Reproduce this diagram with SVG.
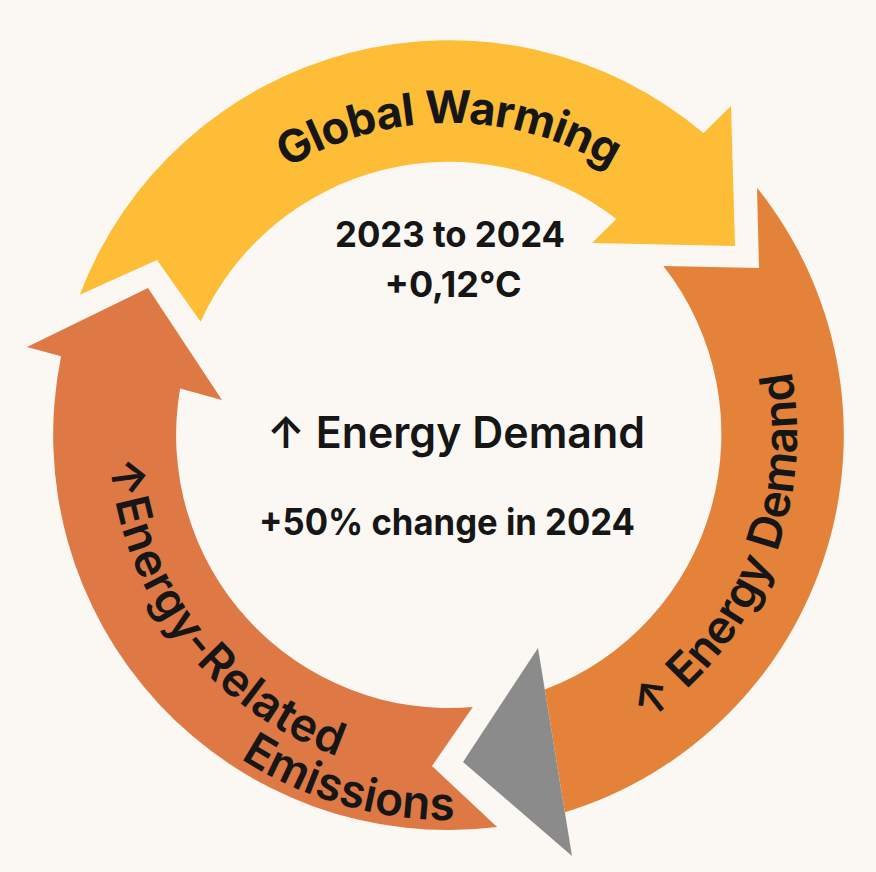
<svg xmlns="http://www.w3.org/2000/svg" width="876" height="872" viewBox="0 0 876 872">
  <style>
    .bg { fill: #fbf8f3; }
    .yellow { fill: #fdbd36; }
    .orange-r { fill: #e4823a; }
    .orange-l { fill: #de7946; }
    .grey { fill: #8b8b8b; }
    .lbl { font-family: Inter, "Liberation Sans", "DejaVu Sans", sans-serif; fill: #161616; }
    .arc { font-size: 46px; font-weight: 600; }
    .center { text-anchor: middle; font-weight: 700; }
  </style>
  <defs>
    <path id="p-gw" d="M 178.8 279 A 312 312 0 0 1 719.2 279"/>
    <path id="p-ed" d="M 509.4 777.7 A 348 348 0 0 0 734.1 235.4"/>
    <path id="p-er1" d="M 129.5 318.7 A 340 340 0 0 0 478.6 773.7"/>
    <path id="p-er2" d="M 87.2 566.7 A 385 385 0 0 0 686 738.4"/>
  </defs>
  <rect class="bg" x="0" y="0" width="876" height="872"/>

  <g id="connectors">
    <path id="arrow-global-warming" class="yellow" d="M 79.8 294.7 A 395 395 0 0 1 703.5 133.1 L 731 106 L 735 246 L 592 243 L 616.3 219 A 273 273 0 0 0 200.6 321.8 L 157 260 Z"/>
    <path id="arrow-energy-demand" class="orange-r" d="M 757 187.7 A 395 395 0 0 1 564.9 812.3 L 544.8 689.6 A 273 273 0 0 0 663.4 266 L 759 268 Z"/>
    <path id="arrowhead-grey" class="grey" d="M 538 648 L 463 762 L 572 856 Z"/>
    <path id="arrow-emissions" class="orange-l" d="M 497.1 827 A 395 395 0 0 1 61.1 356.3 L 27 347 L 148 288 L 222 400 L 180.1 388.6 A 273 273 0 0 0 472.8 707 L 432 766 Z"/>
  </g>

  <g id="node-global-warming">
    <text class="lbl arc" style="font-weight:700; font-size:45px"><textPath href="#p-gw" startOffset="50%" text-anchor="middle" textLength="340" lengthAdjust="spacing">Global Warming</textPath></text>
  </g>

  <g id="node-energy-demand">
    <text class="lbl arc"><textPath href="#p-ed" startOffset="50%" text-anchor="middle" textLength="402" lengthAdjust="spacing">↑ Energy Demand</textPath></text>
  </g>

  <g id="node-emissions">
    <text class="lbl arc"><textPath href="#p-er1" startOffset="50%" text-anchor="middle" textLength="396" lengthAdjust="spacing">↑Energy-Related</textPath></text>
    <text class="lbl arc"><textPath href="#p-er2" startOffset="50%" text-anchor="middle" textLength="226" lengthAdjust="spacing">Emissions</textPath></text>
  </g>

  <g id="node-center">
    <text class="lbl center" x="450" y="247" font-size="36" textLength="230" lengthAdjust="spacingAndGlyphs">2023 to 2024</text>
    <text class="lbl center" x="453" y="297" font-size="35" textLength="137" lengthAdjust="spacingAndGlyphs">+0,12°C</text>
    <text class="lbl center" x="456" y="448" font-size="44" style="font-weight:600" textLength="378" lengthAdjust="spacingAndGlyphs">↑ Energy Demand</text>
    <text class="lbl center" x="447" y="535" font-size="37" textLength="376" lengthAdjust="spacingAndGlyphs">+50% change in 2024</text>
  </g>
</svg>
